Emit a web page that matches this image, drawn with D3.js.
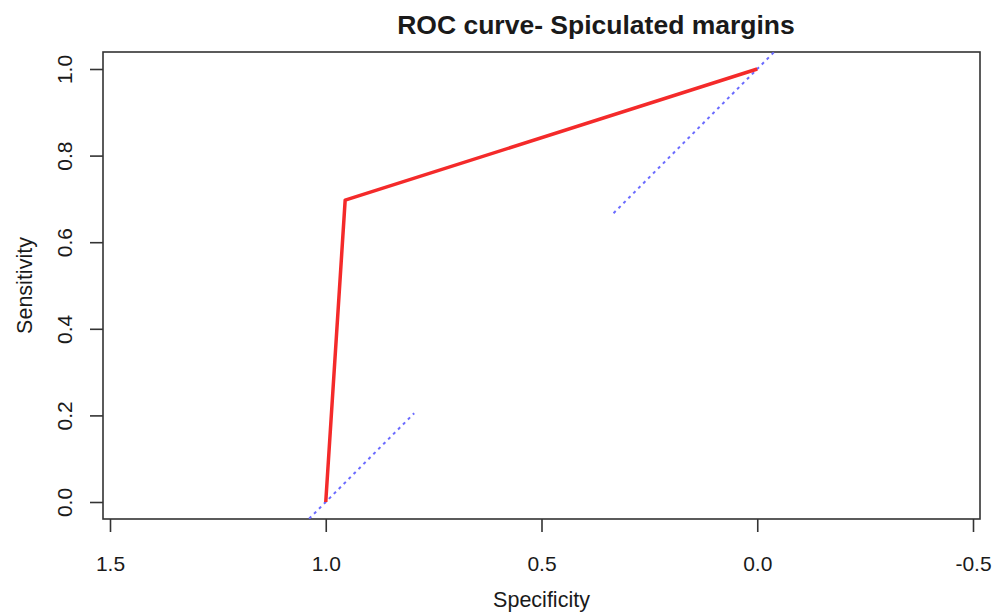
<!DOCTYPE html>
<html>
<head>
<meta charset="utf-8">
<script src="https://cdnjs.cloudflare.com/ajax/libs/d3/7.8.5/d3.min.js"></script>
<style>
   body { margin: 0; background: #fff; }
   text { font-family: "Liberation Sans", Arial, sans-serif; fill: #1a1a1a; }
</style>
</head>
<body>
<svg id="canvas"></svg>
<script>
// ROC curve points (specificity on x, reversed; sensitivity on y)
const specificity = [1.0, 0.955, 0.0];
const sensitivity = [0.0, 0.697, 1.0];

// Visible pieces of the dotted reference diagonal
const diagSpec = [[1.05, 0.795], [0.333, -0.05]];
const diagSens = [[-0.05, 0.205], [0.667, 1.05]];

// Tick values
const xTicks = [1.5, 1.0, 0.5, 0.0, -0.5];
const yTicks = [0.0, 0.2, 0.4, 0.6, 0.8, 1.0];

const titleText = "ROC curve- Spiculated margins";
const xLabel = "Specificity";
const yLabel = "Sensitivity";

// plain hyphen for negatives, like R does
const fmt = (d) => d3.format(".1f")(d).replace("\u2212", "-");

const plotGraph = (svgElemId) => {

   const svgWidth = 992;
   const svgHeight = 614;
   // plot box edges
   const boxLeft = 103, boxRight = 980, boxTop = 52, boxBottom = 519;

   const svg = d3.select(svgElemId)
                  .attr("width", svgWidth)
                  .attr("height", svgHeight);

   // x axis runs from 1.5 down to -0.5
   const xScale = d3.scaleLinear()
                     .domain([1.5, -0.5])
                     .range([110, 973]);
   const yScale = d3.scaleLinear()
                     .domain([0, 1])
                     .range([502, 69]);

   // clip to the plot box
   svg.append("clipPath").attr("id", "box-clip")
      .append("rect")
      .attr("x", boxLeft).attr("y", boxTop)
      .attr("width", boxRight - boxLeft).attr("height", boxBottom - boxTop);

   // x axis
   const xAxis = d3.axisBottom(xScale)
                     .tickValues(xTicks)
                     .tickFormat(fmt)
                     .tickSize(13)
                     .tickPadding(24);
   const gX = svg.append("g")
                  .attr("transform", `translate(0, ${boxBottom})`)
                  .call(xAxis);
   gX.select(".domain").remove();
   gX.selectAll("line").attr("stroke", "#333").attr("stroke-width", 1.6);
   gX.selectAll("text")
      .style("font-size", "21px")
      .attr("dy", "0.71em")
      .attr("fill", "#1a1a1a");

   // y axis, labels rotated like base R
   const yAxis = d3.axisLeft(yScale)
                     .tickValues(yTicks)
                     .tickFormat(fmt)
                     .tickSize(13);
   const gY = svg.append("g")
                  .attr("transform", `translate(${boxLeft}, 0)`)
                  .call(yAxis);
   gY.select(".domain").remove();
   gY.selectAll("line").attr("stroke", "#333").attr("stroke-width", 1.6);
   gY.selectAll("text")
      .style("font-size", "21px")
      .attr("x", null).attr("dy", null)
      .attr("text-anchor", "middle")
      .attr("transform", "translate(-31, 0) rotate(-90)")
      .attr("fill", "#1a1a1a");

   // plot box
   svg.append("rect")
      .attr("x", boxLeft).attr("y", boxTop)
      .attr("width", boxRight - boxLeft).attr("height", boxBottom - boxTop)
      .attr("fill", "none")
      .attr("stroke", "#333")
      .attr("stroke-width", 1.6);

   // dotted diagonal pieces
   const line = d3.line()
                  .x((d) => xScale(d[0]))
                  .y((d) => yScale(d[1]));
   diagSpec.forEach((spec, i) => {
      svg.append("path")
         .attr("clip-path", "url(#box-clip)")
         .attr("d", line(spec.map((s, j) => [s, diagSens[i][j]])))
         .attr("fill", "none")
         .attr("stroke", "#6b6bff")
         .attr("stroke-width", 2)
         .attr("stroke-dasharray", "3,4");
   });

   // ROC curve
   svg.append("path")
      .attr("d", line(specificity.map((s, i) => [s, sensitivity[i]])))
      .attr("fill", "none")
      .attr("stroke", "#f42a2a")
      .attr("stroke-width", 3.5)
      .attr("stroke-linejoin", "round");

   // title and axis labels
   svg.append("text")
      .attr("x", 596).attr("y", 34)
      .attr("text-anchor", "middle")
      .style("font-size", "26.5px")
      .style("font-weight", "bold")
      .text(titleText);
   svg.append("text")
      .attr("x", (boxLeft + boxRight) / 2).attr("y", 607)
      .attr("text-anchor", "middle")
      .style("font-size", "21.5px")
      .text(xLabel);
   svg.append("text")
      .attr("transform", `translate(32, ${(boxTop + boxBottom) / 2}) rotate(-90)`)
      .attr("text-anchor", "middle")
      .style("font-size", "21.5px")
      .text(yLabel);
};

plotGraph("#canvas");
</script>
</body>
</html>
